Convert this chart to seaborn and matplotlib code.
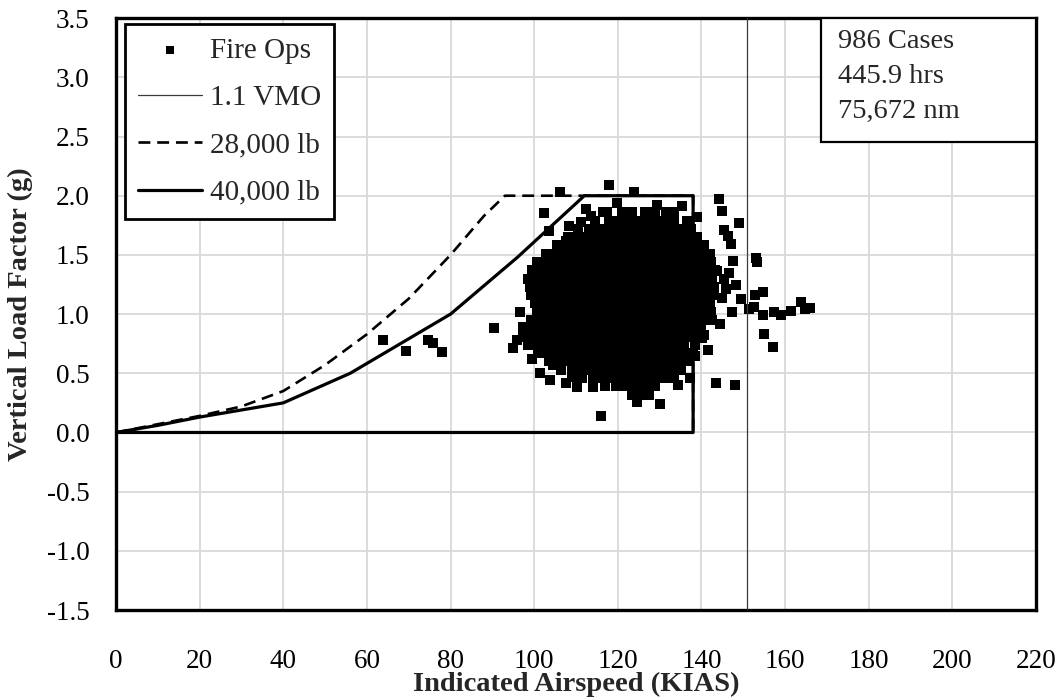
import matplotlib
matplotlib.use("Agg")
import matplotlib.pyplot as plt
import seaborn as sns
from matplotlib.patches import Rectangle

# ---------------------------------------------------------------- data
# Flight envelopes (KIAS vs. g)
env28_kias = [0, 10, 20, 30, 40, 50, 60, 70, 80, 88, 93, 112, 138, 138, 0]
env28_g = [0.0, 0.07, 0.14, 0.22, 0.35, 0.57, 0.83, 1.13, 1.50, 1.83, 2.0, 2.0, 2.0, 0.0, 0.0]

env40_kias = [0, 10, 20, 30, 40, 56, 80, 96, 112, 138, 138, 0]
env40_g = [0.0, 0.06, 0.13, 0.19, 0.25, 0.50, 1.00, 1.48, 2.0, 2.0, 0.0, 0.0]

vmo_kias = 151

# Fire-ops exceedance points, grouped by load-factor band
g_186 = 1.86
kias_186 = [117.5, 121.0, 123.5, 126.6, 129.0, 131.5, 133.4]
g_179 = 1.79
kias_179 = [114.5, 118.0, 120.2, 122.4, 124.6, 126.8, 129.0, 131.2, 133.4, 136.6]
g_172 = 1.72
kias_172 = [110.5, 113.0, 115.5, 117.7, 119.9, 122.1, 124.3, 126.5, 128.7, 130.9, 133.1, 135.3, 137.4]
g_165 = 1.65
kias_165 = [108.0, 110.4, 112.6, 114.8, 117.0, 119.2, 121.4, 123.6, 125.8, 128.0, 130.2, 132.4,
            134.6, 136.8, 139.0]
g_158 = 1.58
kias_158 = [105.5, 107.8, 110.0, 112.2, 114.4, 116.6, 118.8, 121.0, 123.2, 125.4, 127.6, 129.8,
            132.0, 134.2, 136.4, 138.6, 140.6]
g_151 = 1.51
kias_151 = [102.8, 105.1, 107.3, 109.5, 111.7, 113.9, 116.1, 118.3, 120.5, 122.7, 124.9, 127.1,
            129.3, 131.5, 133.7, 135.9, 138.1, 140.3, 142.0]
g_144 = 1.44
kias_144 = [100.6, 102.9, 105.1, 107.3, 109.5, 111.7, 113.9, 116.1, 118.3, 120.5, 122.7, 124.9,
            127.1, 129.3, 131.5, 133.7, 135.9, 138.1, 140.3, 142.3]
g_137 = 1.37
kias_137 = [99.4, 101.7, 103.9, 106.1, 108.3, 110.5, 112.7, 114.9, 117.1, 119.3, 121.5, 123.7,
            125.9, 128.1, 130.3, 132.5, 134.7, 136.9, 139.1, 141.3, 143.2]
g_130 = 1.30
kias_130 = [98.6, 100.8, 103.0, 105.2, 107.4, 109.6, 111.8, 114.0, 116.2, 118.4, 120.6, 122.8,
            125.0, 127.2, 129.4, 131.6, 133.8, 136.0, 138.2, 140.4, 142.6]
g_123 = 1.23
kias_123 = [99.0, 101.3, 103.5, 105.7, 107.9, 110.1, 112.3, 114.5, 116.7, 118.9, 121.1, 123.3,
            125.5, 127.7, 129.9, 132.1, 134.3, 136.5, 138.7, 140.9, 143.0]
g_116 = 1.16
kias_116 = [99.3, 101.5, 103.7, 105.9, 108.1, 110.3, 112.5, 114.7, 116.9, 119.1, 121.3, 123.5,
            125.7, 127.9, 130.1, 132.3, 134.5, 136.7, 138.9, 141.1, 143.1]
g_109 = 1.09
kias_109 = [100.2, 102.4, 104.6, 106.8, 109.0, 111.2, 113.4, 115.6, 117.8, 120.0, 122.2, 124.4,
            126.6, 128.8, 131.0, 133.2, 135.4, 137.6, 139.8, 142.0]
g_102 = 1.02
kias_102 = [100.6, 102.8, 105.0, 107.2, 109.4, 111.6, 113.8, 116.0, 118.2, 120.4, 122.6, 124.8,
            127.0, 129.2, 131.4, 133.6, 135.8, 138.0, 140.2, 142.2]
g_095 = 0.95
kias_095 = [99.2, 101.4, 103.6, 105.8, 108.0, 110.2, 112.4, 114.6, 116.8, 119.0, 121.2, 123.4,
            125.6, 127.8, 130.0, 132.2, 134.4, 136.6, 138.8, 141.0]
g_088 = 0.88
kias_088 = [98.2, 100.4, 102.6, 104.8, 107.0, 109.2, 111.4, 113.6, 115.8, 118.0, 120.2, 122.4,
            124.6, 126.8, 129.0, 131.2, 133.4, 135.6, 137.8, 140.0]
g_081 = 0.81
kias_081 = [97.4, 99.6, 101.8, 104.0, 106.2, 108.4, 110.6, 112.8, 115.0, 117.2, 119.4, 121.6,
            123.8, 126.0, 128.2, 130.4, 132.6, 134.8, 137.0, 139.2]
g_074 = 0.74
kias_074 = [98.5, 100.7, 102.9, 105.1, 107.3, 109.5, 111.7, 113.9, 116.1, 118.3, 120.5, 122.7,
            124.9, 127.1, 129.3, 131.5, 133.7, 135.9, 138.4]
g_067 = 0.67
kias_067 = [101.0, 103.2, 105.4, 107.6, 109.8, 112.0, 114.2, 116.4, 118.6, 120.8, 123.0, 125.2,
            127.4, 129.6, 131.8, 134.0, 136.2, 138.0]
g_060 = 0.60
kias_060 = [103.6, 105.8, 108.0, 110.2, 112.4, 114.6, 116.8, 119.0, 121.2, 123.4, 125.6, 127.8,
            130.0, 132.2, 134.4, 136.6]
g_053 = 0.53
kias_053 = [106.5, 109.0, 111.2, 113.4, 115.6, 117.8, 120.0, 122.2, 124.4, 126.6, 128.8, 131.0,
            133.2, 135.0]
g_046 = 0.46
kias_046 = [111.5, 114.0, 116.2, 118.4, 120.6, 122.8, 125.0, 127.2, 129.4, 131.6, 133.5]
g_039 = 0.39
kias_039 = [117.0, 119.5, 122.0, 124.3, 126.6, 129.0]
g_032 = 0.32
kias_032 = [123.5, 125.8, 127.5]

# Isolated points outside the main cluster
outlier_kias = [63.9, 69.4, 74.7, 75.9, 77.9, 90.3, 97.3, 95.0, 101.4, 107.6, 110.2, 114.1, 116.0,
                124.6, 130.0, 134.4, 143.5, 148.1, 106.2, 118.0, 123.8, 102.4, 112.4, 108.3, 116.4,
                111.2, 129.3, 135.3, 126.6, 138.9, 144.1, 145.0, 148.9, 145.3, 146.3, 147.1, 147.5,
                153.1, 153.3, 148.3, 154.7, 152.9, 149.5, 151.3, 152.6, 154.6, 157.4, 158.9, 161.5,
                163.8, 164.8, 166.0, 154.9, 157.0, 144.9, 147.3, 144.5, 142.5, 140.5, 138.5, 139.7,
                140.1, 134.1, 131.0, 128.5, 126.2, 145.5, 146.5,
                96.0, 99.5, 103.8, 105.4, 96.6, 104.5, 109.0, 113.5, 119.8, 133.0, 137.2, 141.5,
                143.8, 145.8, 107.5, 103.6]
outlier_g = [0.78, 0.69, 0.78, 0.76, 0.68, 0.88, 0.89, 0.71, 0.50, 0.42, 0.38, 0.38, 0.14,
             0.26, 0.24, 0.40, 0.42, 0.40, 2.03, 2.09, 2.03, 1.85, 1.89, 1.74, 1.86,
             1.78, 1.92, 1.91, 1.86, 1.82, 1.97, 1.87, 1.77, 1.71, 1.66, 1.59, 1.45,
             1.47, 1.44, 1.25, 1.19, 1.16, 1.13, 1.04, 1.06, 0.99, 1.02, 0.99, 1.03,
             1.10, 1.04, 1.05, 0.83, 0.72, 1.14, 1.02, 0.92, 0.95, 0.82, 0.65, 1.55,
             0.80, 0.57, 0.51, 0.45, 0.35, 1.30, 1.35,
             0.78, 0.62, 0.44, 1.56, 1.02, 0.57, 0.47, 1.83, 1.94, 1.86, 0.46, 0.70,
             1.36, 1.21, 1.62, 1.70]

stats_text = "986 Cases\n445.9 hrs\n75,672 nm"

# ---------------------------------------------------------------- assemble points
bands = [(g_186, kias_186), (g_179, kias_179), (g_172, kias_172), (g_165, kias_165),
         (g_158, kias_158), (g_151, kias_151), (g_144, kias_144), (g_137, kias_137),
         (g_130, kias_130), (g_123, kias_123), (g_116, kias_116), (g_109, kias_109),
         (g_102, kias_102), (g_095, kias_095), (g_088, kias_088), (g_081, kias_081),
         (g_074, kias_074), (g_067, kias_067), (g_060, kias_060), (g_053, kias_053),
         (g_046, kias_046), (g_039, kias_039), (g_032, kias_032)]
fire_kias = list(outlier_kias)
fire_g = list(outlier_g)
for g_val, speeds in bands:
    fire_kias.extend(speeds)
    fire_g.extend([g_val] * len(speeds))

# ---------------------------------------------------------------- style
sns.set_theme(style="whitegrid")
plt.rcParams["font.family"] = ["Liberation Serif", "DejaVu Serif"]
plt.rcParams["axes.edgecolor"] = "black"
plt.rcParams["grid.color"] = "#d9d9d9"
plt.rcParams["grid.linewidth"] = 1.3

fig = plt.figure(figsize=(10.61, 6.98), dpi=100)
ax = fig.add_axes([0.1093, 0.126, 0.8672, 0.848])
ax.set_axisbelow(True)

sns.scatterplot(x=fire_kias, y=fire_g, marker="s", s=56, color="black",
                linewidth=0, ax=ax, label="Fire Ops", zorder=3)
ax.axvline(vmo_kias, color="#3a3a3a", lw=0.9, label="1.1 VMO", zorder=4)
sns.lineplot(x=env28_kias, y=env28_g, sort=False, estimator=None, color="black",
             lw=1.9, dashes=False, ax=ax, label="28,000 lb", zorder=4)
ax.lines[-1].set_dashes((4.5, 2.6))
sns.lineplot(x=env40_kias, y=env40_g, sort=False, estimator=None, color="black",
             lw=2.3, ax=ax, label="40,000 lb", zorder=5)

ax.set_xlim(0, 220)
ax.set_ylim(-1.5, 3.5)
ax.set_xticks(range(0, 221, 20))
ax.set_yticks([-1.5, -1.0, -0.5, 0.0, 0.5, 1.0, 1.5, 2.0, 2.5, 3.0, 3.5])
ax.set_yticklabels([f"{v:.1f}" for v in ax.get_yticks()])
ax.tick_params(axis="both", length=0, labelsize=19.5, colors="black")
ax.tick_params(axis="y", pad=19)
ax.tick_params(axis="x", pad=28)
for sp in ax.spines.values():
    sp.set_linewidth(2.4)
    sp.set_color("black")

# x label sits on a fixed baseline just under the tick labels
ax.set_xlabel("Indicated Airspeed (KIAS)", fontsize=20.5, fontweight="bold",
              va="baseline")
ax.xaxis.set_label_coords(0.5, (610 - 691) / 592)
ax.set_ylabel("Vertical Load Factor (g)", fontsize=20.5, fontweight="bold", labelpad=10)

handles, labels = ax.get_legend_handles_labels()
leg = ax.legend(handles, labels, loc="upper left", bbox_to_anchor=(0.0098, 0.99),
                borderaxespad=0, fontsize=21, frameon=True, fancybox=False,
                framealpha=1, edgecolor="black", handlelength=2.2,
                handletextpad=0.25, labelspacing=0.72, borderpad=0.45,
                markerscale=0.8)
leg.get_frame().set_linewidth(2.0)

# statistics box anchored in the upper-right corner
ax.add_patch(Rectangle((0.766, 0.791), 0.234, 0.209, transform=ax.transAxes,
                       facecolor="white", edgecolor="black", lw=1.6, zorder=6))
ax.text(0.785, 0.982, stats_text, transform=ax.transAxes, ha="left", va="top",
        fontsize=20.5, linespacing=1.52, zorder=7)

fig.savefig("out.png", dpi=100)
